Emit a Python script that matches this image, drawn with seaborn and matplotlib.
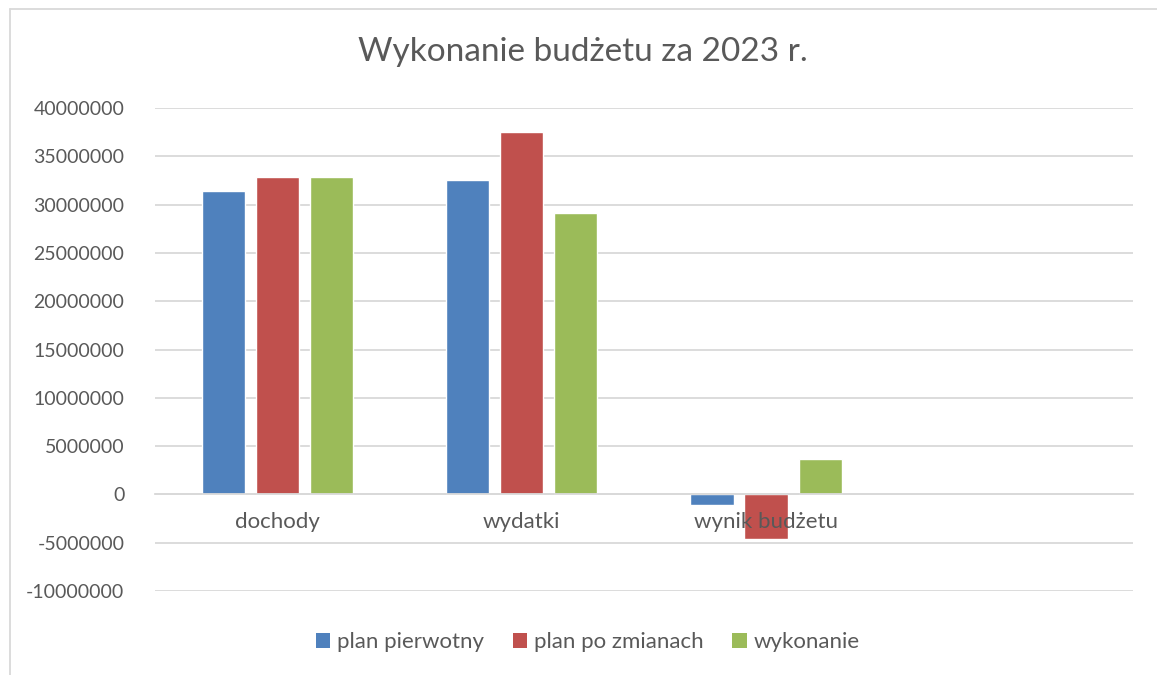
import pandas as pd
import seaborn as sns
import matplotlib.pyplot as plt
from matplotlib.lines import Line2D
from matplotlib.patches import Patch

# Data
categories = ["dochody", "wydatki", "wynik budżetu", ""]
series = ["plan pierwotny", "plan po zmianach", "wykonanie"]
plan_pierwotny = [31400000, 32500000, -1100000, None]
plan_po_zmianach = [32900000, 37500000, -4600000, None]
wykonanie = [32850000, 29150000, 3700000, None]
colors = ["#4F81BD", "#C0504D", "#9BBB59"]

df = pd.DataFrame({
    "kategoria": categories * 3,
    "seria": [s for s in series for _ in categories],
    "wartosc": plan_pierwotny + plan_po_zmianach + wykonanie,
})

sns.set_style("white")
plt.rcParams['font.family'] = ['Lato', 'DejaVu Sans']
txt = "#595959"

fig = plt.figure(figsize=(11.57, 6.75), dpi=100)
ax = fig.add_axes([0.134, 0.1244, 0.845, 0.7156])

sns.barplot(data=df, x="kategoria", y="wartosc", hue="seria", order=categories,
            hue_order=series, palette=colors, width=0.664, gap=0.2,
            saturation=1, errorbar=None, legend=False, ax=ax)

ax.set_ylim(-10000000, 40000000)
ax.set_yticks(range(-10000000, 40000001, 5000000))
ax.set_yticklabels([str(v) for v in range(-10000000, 40000001, 5000000)])
ax.set_xlim(-0.5, 3.5)
ax.yaxis.grid(True, color="#D9D9D9", linewidth=1.3)
ax.set_axisbelow(True)
ax.xaxis.set_zorder(5)  # category labels drawn over the bars
for s in ["top", "right", "left"]:
    ax.spines[s].set_visible(False)
ax.spines["bottom"].set_position(("data", 0))
ax.spines["bottom"].set_color("#D9D9D9")
ax.spines["bottom"].set_linewidth(1.3)
ax.tick_params(axis="both", length=0, colors=txt)
ax.tick_params(axis="y", pad=22, labelsize=14)
ax.tick_params(axis="x", pad=13, labelsize=16)
ax.set_xlabel("")
ax.set_ylabel("")

fig.text(0.504, 0.923, "Wykonanie budżetu za 2023 r.", ha="center", va="center",
         fontsize=24, color=txt)

handles = [Patch(facecolor=c, edgecolor="none") for c in colors]
fig.legend(handles, series, loc="center", bbox_to_anchor=(0.508, 0.049), ncol=3,
           frameon=False, fontsize=16, labelcolor=txt, handlelength=0.65,
           handleheight=0.65, handletextpad=0.3, columnspacing=1.3)

# chart area border (top and left)
fig.add_artist(Line2D([10 / 1157, 1], [1 - 9 / 675, 1 - 9 / 675], color="#D9D9D9", lw=1.3))
fig.add_artist(Line2D([10 / 1157, 10 / 1157], [0, 1 - 9 / 675], color="#D9D9D9", lw=1.3))

plt.savefig("out.png", dpi=100)
